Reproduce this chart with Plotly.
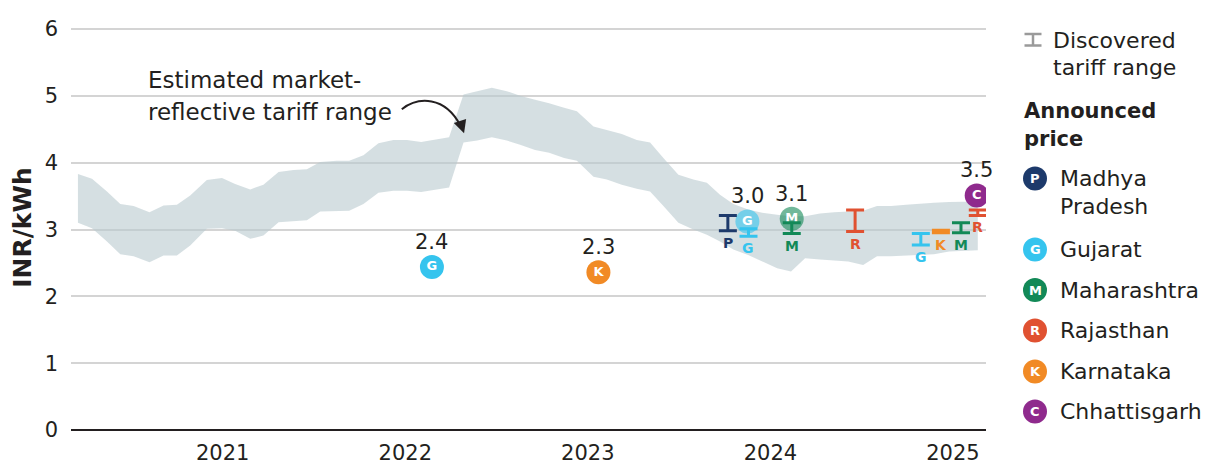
import plotly.graph_objects as go

# ---------------- data ----------------
band_x = [2020.207, 2020.284, 2020.366, 2020.439, 2020.512, 2020.599, 2020.676, 2020.749,
          2020.822, 2020.913, 2020.996, 2021.068, 2021.151, 2021.223, 2021.306, 2021.388,
          2021.461, 2021.534, 2021.625, 2021.693, 2021.771, 2021.853, 2021.935, 2022.009,
          2022.087, 2022.164, 2022.240, 2022.319, 2022.394, 2022.474, 2022.556, 2022.629,
          2022.711, 2022.788, 2022.870, 2022.940, 2023.031, 2023.104, 2023.186, 2023.268,
          2023.341, 2023.414, 2023.496, 2023.578, 2023.652, 2023.724, 2023.797, 2023.878,
          2023.955, 2024.037, 2024.113, 2024.190, 2024.272, 2024.349, 2024.426, 2024.508,
          2024.584, 2024.661, 2024.743, 2024.820, 2024.896, 2024.979, 2025.055, 2025.136]
band_high = [3.83, 3.76, 3.57, 3.38, 3.35, 3.26, 3.36, 3.37,
             3.51, 3.74, 3.77, 3.68, 3.60, 3.67, 3.86, 3.89,
             3.90, 4.01, 4.03, 4.03, 4.11, 4.29, 4.34, 4.34,
             4.31, 4.34, 4.38, 5.02, 5.07, 5.12, 5.07, 5.00,
             4.94, 4.89, 4.82, 4.77, 4.54, 4.49, 4.43, 4.34,
             4.30, 4.07, 3.82, 3.75, 3.70, 3.52, 3.38, 3.30,
             3.25, 3.22, 3.20, 3.20, 3.24, 3.26, 3.27, 3.28,
             3.35, 3.35, 3.37, 3.39, 3.40, 3.41, 3.42, 3.42]
band_low = [3.10, 3.02, 2.82, 2.63, 2.60, 2.51, 2.61, 2.61,
            2.76, 3.01, 3.02, 2.98, 2.86, 2.91, 3.11, 3.13,
            3.14, 3.27, 3.28, 3.28, 3.38, 3.55, 3.58, 3.58,
            3.56, 3.60, 3.63, 4.30, 4.33, 4.38, 4.33, 4.27,
            4.19, 4.15, 4.07, 4.03, 3.79, 3.75, 3.67, 3.61,
            3.57, 3.35, 3.10, 3.00, 2.92, 2.82, 2.70, 2.62,
            2.52, 2.42, 2.37, 2.57, 2.55, 2.53, 2.52, 2.47,
            2.60, 2.60, 2.61, 2.62, 2.63, 2.67, 2.68, 2.69]

states = ["Madhya Pradesh", "Gujarat", "Maharashtra", "Rajasthan", "Karnataka", "Chhattisgarh"]
state_letters = ["P", "G", "M", "R", "K", "C"]
state_colors = ["#1d3a6b", "#35c4ee", "#128957", "#e05131", "#f18a25", "#8f2a8d"]
legend_names = ["Madhya<br>Pradesh", "Gujarat", "Maharashtra", "Rajasthan", "Karnataka", "Chhattisgarh"]

price_states = ["Gujarat", "Karnataka", "Gujarat", "Maharashtra", "Chhattisgarh"]
price_x = [2022.146, 2023.058, 2023.874, 2024.117, 2025.130]
price_y = [2.44, 2.36, 3.12, 3.16, 3.51]
price_labels = ["2.4", "2.3", "3.0", "3.1", "3.5"]
price_opacity = [1, 1, 0.6, 0.6, 1]

range_states = ["Madhya Pradesh", "Gujarat", "Maharashtra", "Rajasthan",
                "Gujarat", "Karnataka", "Maharashtra", "Rajasthan"]
range_x = [2023.767, 2023.880, 2024.117, 2024.464, 2024.824, 2024.934, 2025.044, 2025.136]
range_low = [2.98, 2.90, 2.94, 2.97, 2.77, 2.95, 2.95, 3.21]
range_high = [3.21, 3.01, 3.10, 3.29, 2.94, 2.99, 3.10, 3.29]

year_ticks = [2021, 2022, 2023, 2024, 2025]
year_labels = ["2021", "2022", "2023", "2024", "2025"]

# ---------------- layout constants ----------------
W, H = 1213, 464
ML, MR, MT, MB = 71, 227, 25, 34
FONT = "DejaVu Sans"
TXT = "#231f20"
color_of = dict(zip(states, state_colors))
letter_of = dict(zip(states, state_letters))


def px2x(px):
    return (px - ML) / (W - ML - MR)


def py2y(py):
    return (H - MB - py) / (H - MT - MB)


fig = go.Figure()

# band
fig.add_trace(go.Scatter(x=band_x, y=band_low, mode="lines", line=dict(width=0, color="rgba(0,0,0,0)"),
                         hoverinfo="skip", showlegend=False))
fig.add_trace(go.Scatter(x=band_x, y=band_high, mode="lines", line=dict(width=0, color="rgba(0,0,0,0)"),
                         fill="tonexty", fillcolor="rgba(185,202,206,0.6)", hoverinfo="skip", showlegend=False))

# announced price circles
fig.add_trace(go.Scatter(
    x=price_x, y=price_y, mode="markers+text",
    marker=dict(size=24, color=[color_of[s] for s in price_states], opacity=price_opacity, line=dict(width=0)),
    text=["<b>%s</b>" % letter_of[s] for s in price_states], textposition="middle center",
    textfont=dict(family=FONT, size=13, color="white"), showlegend=False, hoverinfo="skip"))

# discovered ranges
for s, x, lo, hi in zip(range_states, range_x, range_low, range_high):
    mid = (lo + hi) / 2
    fig.add_trace(go.Scatter(
        x=[x], y=[mid], mode="markers", marker=dict(size=1, opacity=0),
        error_y=dict(type="data", array=[hi - mid], symmetric=True, color=color_of[s], thickness=3, width=9),
        showlegend=False, hoverinfo="skip"))
    fig.add_annotation(x=x, y=lo, xref="x", yref="y", text="<b>%s</b>" % letter_of[s], showarrow=False,
                       yshift=-12, yanchor="middle", font=dict(family=FONT, size=14, color=color_of[s]))

# value labels
for x, y, lab in zip(price_x, price_y, price_labels):
    fig.add_annotation(x=x, y=y, xref="x", yref="y", text=lab, showarrow=False, yshift=25,
                       yanchor="middle", font=dict(family=FONT, size=21, color=TXT))

# callout text + curved arrow
fig.add_annotation(x=px2x(146), y=py2y(80), xref="paper", yref="paper", text="Estimated market-",
                   showarrow=False, xanchor="left", yanchor="middle", font=dict(family=FONT, size=23, color=TXT))
fig.add_annotation(x=px2x(146), y=py2y(112), xref="paper", yref="paper", text="reflective tariff range",
                   showarrow=False, xanchor="left", yanchor="middle", font=dict(family=FONT, size=23, color=TXT))
fig.add_shape(type="path", xref="x", yref="y",
              path="M 2021.981,4.80 C 2022.071,4.99 2022.218,5.00 2022.303,4.55",
              line=dict(color=TXT, width=2))
fig.add_annotation(x=2022.322, y=4.44, xref="x", yref="y", ax=-4, ay=-12, text="", showarrow=True,
                   arrowhead=2, arrowsize=1.3, arrowwidth=2, arrowcolor=TXT)

# ---------------- custom legend ----------------
icx, top_, bot_ = 1033, 34, 45.5
fig.add_shape(type="line", xref="paper", yref="paper", xsizemode="pixel", ysizemode="pixel",
              xanchor=px2x(icx), yanchor=py2y(top_), x0=0, x1=0, y0=0, y1=-(bot_ - top_),
              line=dict(color="#9a9a9a", width=2.5))
for yy in (top_, bot_):
    fig.add_shape(type="line", xref="paper", yref="paper", xsizemode="pixel", ysizemode="pixel",
                  xanchor=px2x(icx), yanchor=py2y(yy), x0=-8.5, x1=8.5, y0=0, y1=0,
                  line=dict(color="#9a9a9a", width=2.5))
fig.add_annotation(x=px2x(1051), y=py2y(40), xref="paper", yref="paper", text="Discovered", showarrow=False,
                   xanchor="left", yanchor="middle", font=dict(family=FONT, size=22, color=TXT))
fig.add_annotation(x=px2x(1051), y=py2y(67), xref="paper", yref="paper", text="tariff range", showarrow=False,
                   xanchor="left", yanchor="middle", font=dict(family=FONT, size=22, color=TXT))
fig.add_annotation(x=px2x(1022), y=py2y(111), xref="paper", yref="paper", text="<b>Announced</b>",
                   showarrow=False, xanchor="left", yanchor="middle", font=dict(family=FONT, size=21, color=TXT))
fig.add_annotation(x=px2x(1022), y=py2y(139), xref="paper", yref="paper", text="<b>price</b>",
                   showarrow=False, xanchor="left", yanchor="middle", font=dict(family=FONT, size=21, color=TXT))

legend_cy = [178.5, 249.5, 290, 330.5, 371.5, 411.5]
for name, letter, col, cy in zip(legend_names, state_letters, state_colors, legend_cy):
    fig.add_shape(type="circle", xref="paper", yref="paper", xsizemode="pixel", ysizemode="pixel",
                  xanchor=px2x(1035), yanchor=py2y(cy), x0=-12, x1=12, y0=-12, y1=12,
                  fillcolor=col, line=dict(width=0))
    fig.add_annotation(x=px2x(1035), y=py2y(cy), xref="paper", yref="paper", text="<b>%s</b>" % letter,
                       showarrow=False, xanchor="center", yanchor="middle",
                       font=dict(family=FONT, size=13, color="white"))
    lines = name.split("<br>")
    for i, ln in enumerate(lines):
        fig.add_annotation(x=px2x(1058), y=py2y(cy + 28 * i), xref="paper", yref="paper", text=ln,
                           showarrow=False, xanchor="left", yanchor="middle",
                           font=dict(family=FONT, size=22, color=TXT))

fig.update_layout(
    width=W, height=H, margin=dict(l=ML, r=MR, t=MT, b=MB),
    paper_bgcolor="white", plot_bgcolor="white", showlegend=False,
    font=dict(family=FONT, size=21, color=TXT),
    xaxis=dict(range=[2020.169, 2025.181], tickvals=year_ticks, ticktext=year_labels, automargin=False,
               showgrid=False, zeroline=False, showline=False, ticks="",
               tickfont=dict(family=FONT, size=21, color=TXT), ticklabelstandoff=8),
    yaxis=dict(range=[0, 6.06], tickvals=[0, 1, 2, 3, 4, 5, 6], showgrid=True, gridcolor="#d4d4d4",
               gridwidth=1.5, automargin=False,
               zeroline=True, zerolinecolor=TXT, zerolinewidth=2, showline=False, ticks="",
               tickfont=dict(family=FONT, size=21, color=TXT), ticklabelstandoff=12,
               title=dict(text="<b>INR/kWh</b>", font=dict(family=FONT, size=25, color=TXT), standoff=5)),
)

fig.write_html("out.html", config={"displayModeBar": False},
               post_script="document.body.style.margin='0px';document.body.style.overflow='hidden';")
